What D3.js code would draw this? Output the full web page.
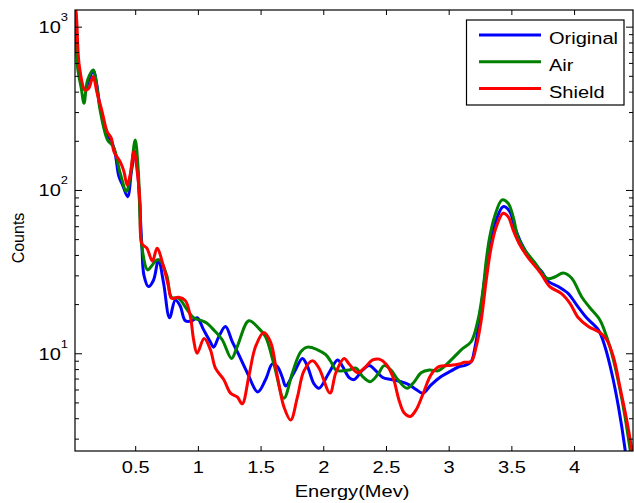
<!DOCTYPE html>
<html>
<head>
<meta charset="utf-8">
<script src="https://cdn.jsdelivr.net/npm/d3@7"></script>
<style>
body { margin: 0; background: #fff; }
text { font-family: "Liberation Sans", Arial, sans-serif; fill: #000; }
</style>
</head>
<body>
<div id="main_div"></div>
<script>
// spectra: energy (MeV) and counts
var origE = [0.02,0.04,0.07,0.10,0.13,0.166,0.19,0.22,0.28,0.31,0.34,0.37,0.40,0.44,0.47,0.50,0.52,0.553,0.57,0.606,0.646,0.686,0.726,0.774,0.82,0.86,0.90,0.954,0.994,1.046,1.10,1.126,1.166,1.22,1.274,1.326,1.394,1.478,1.54,1.594,1.634,1.674,1.70,1.766,1.834,1.874,1.926,1.966,2.046,2.114,2.154,2.206,2.246,2.314,2.366,2.42,2.474,2.54,2.62,2.686,2.74,2.794,2.86,2.94,3.02,3.086,3.126,3.18,3.206,3.246,3.286,3.326,3.38,3.434,3.486,3.526,3.58,3.66,3.74,3.794,3.874,3.954,4.02,4.10,4.194,4.246,4.30,4.354,4.406,4.43];
var origC = [1350,650,460,409,470,540,460,324,215,200,168,121,107,91,130,172,130,46,30,25.6,28,37.3,27,16.5,21.2,19.4,15.8,15.8,16.5,13.9,11.7,10.9,12.6,14.6,11.8,9.8,7.6,5.8,6.9,8.6,8.3,7.1,6.3,7.6,9.3,8.3,6.5,6.1,7.6,9.1,8.3,7.1,6.9,7.9,8.4,7.8,7.1,6.9,6.7,6.4,6.0,5.7,6.4,7.2,7.8,8.3,8.4,8.9,10.5,16,28.2,45,65.6,79,74,59.5,47,37,31.8,27.6,25.6,23.2,19.8,16.5,13.9,11,7.6,4.7,2.6,1.8];

var airE = [0.02,0.03,0.04,0.07,0.092,0.12,0.166,0.19,0.22,0.28,0.326,0.38,0.43,0.46,0.50,0.525,0.553,0.60,0.64,0.674,0.70,0.754,0.79,0.846,0.914,0.966,1.034,1.07,1.126,1.194,1.268,1.314,1.406,1.486,1.54,1.606,1.686,1.754,1.82,1.874,1.954,2.02,2.06,2.10,2.154,2.206,2.26,2.314,2.374,2.434,2.486,2.54,2.594,2.668,2.726,2.78,2.846,2.914,2.94,3.02,3.10,3.18,3.234,3.274,3.30,3.326,3.366,3.426,3.474,3.514,3.554,3.606,3.686,3.766,3.794,3.846,3.914,3.98,4.06,4.126,4.206,4.26,4.314,4.366,4.406,4.446,4.47];
var airC = [1500,1100,570,420,340,470,543,450,309,202,184,127,98,120,202,130,45,32.4,35,37.3,37,29.5,22,21.7,18.5,16.5,15.8,15.3,13.9,12.1,9.3,11,15.8,14.2,12.6,8.6,5.3,7.6,10.2,10.9,10.5,9.8,8.9,7.9,7.8,7.9,8.1,7.2,6.7,7.4,8.4,7.9,6.9,6.1,6.7,7.6,7.9,7.8,8.0,9.1,10.5,11.8,16,24.5,37.3,51,68.6,86.9,83,68.6,51,43,36,29.5,28.6,29.3,31,28.9,22.2,19,16,12.6,9.1,6.0,4.1,2.6,2.0];

var shieldE = [0.02,0.03,0.054,0.10,0.13,0.164,0.196,0.236,0.276,0.31,0.33,0.38,0.41,0.436,0.46,0.49,0.516,0.54,0.553,0.593,0.638,0.674,0.726,0.766,0.79,0.846,0.90,0.94,0.966,0.994,1.05,1.10,1.14,1.206,1.26,1.314,1.354,1.406,1.46,1.526,1.58,1.634,1.686,1.74,1.794,1.846,1.914,1.966,2.054,2.10,2.166,2.206,2.274,2.326,2.394,2.446,2.50,2.554,2.606,2.646,2.694,2.74,2.794,2.86,2.926,2.994,3.086,3.126,3.18,3.22,3.26,3.30,3.34,3.38,3.434,3.474,3.514,3.566,3.634,3.714,3.74,3.806,3.90,3.966,4.034,4.114,4.206,4.26,4.314,4.366,4.42,4.46,4.48];
var shieldC = [1300,1190,580,409,420,495,393,302,228,207,172,149,130,107,124,172,130,81,47,44,36.6,44,34,25.6,21.7,22,21,16.8,12.1,10,12.3,10.5,8.1,6.9,5.7,5.4,4.9,7.2,11,13.4,11.7,7.2,4.7,3.9,5.4,7.8,9.0,8.1,5.7,7.6,9.3,8.6,7.6,8.1,9.1,9.2,8.6,7.2,5.1,4.3,4.1,4.5,5.6,7.4,8.3,8.4,8.6,8.8,8.9,11,16,28.2,45,59.5,72,68.6,57,46.4,38.5,32.4,30.4,25.6,23.2,20.3,16.5,14.6,13.4,12.1,9.5,6.2,3.9,2.6,2.1];

var seriesNames = ["Original", "Air", "Shield"];
var seriesColors = ["#0000ff", "#008000", "#ff0000"];
var xTicks = [0.5, 1, 1.5, 2, 2.5, 3, 3.5, 4];
var yMajor = [10, 100, 1000];
var yExp = ["1", "2", "3"];

var series = [
    {name: seriesNames[0], color: seriesColors[0], pts: d3.zip(origE, origC)},
    {name: seriesNames[1], color: seriesColors[1], pts: d3.zip(airE, airC)},
    {name: seriesNames[2], color: seriesColors[2], pts: d3.zip(shieldE, shieldC)}
];

var pL = 75, pR = 633, pT = 10, pB = 451;
var sx = 1.18; // picture is a little wider than tall

var x_scale = d3.scaleLinear().domain([0.02, 4.47]).range([pL, pR]);
var y_scale = d3.scaleLog().domain([2.52, 1265]).range([pB, pT]);

var yMinor = [];
[1, 10, 100].forEach(function(b) {
    for (var k = 2; k <= 9; k++) {
        var v = b * k;
        if (v >= 2.52 && v <= 1265) yMinor.push(v);
    }
});

var svg = d3.select("#main_div").append("svg").attr("width", 634).attr("height", 503);

svg.append("defs").append("clipPath").attr("id", "clip")
    .append("rect").attr("x", pL).attr("y", pT).attr("width", pR - pL).attr("height", pB - pT);

var line = d3.line()
    .x(function(d) { return x_scale(d[0]); })
    .y(function(d) { return y_scale(d[1]); })
    .curve(d3.curveCatmullRom.alpha(0.5));

svg.append("g").attr("clip-path", "url(#clip)").selectAll("path").data(series).enter().append("path")
    .attr("d", function(d) { return line(d.pts); })
    .attr("fill", "none")
    .attr("stroke", function(d) { return d.color; })
    .attr("stroke-width", 3)
    .attr("stroke-linejoin", "round");

// axes, ticks pointing inward
var g_x = svg.append("g").attr("transform", "translate(0," + pB + ")")
    .call(d3.axisBottom(x_scale).tickValues(xTicks).tickSize(-5).tickSizeOuter(0).tickPadding(10)
        .tickFormat(function(d) { return String(d); }));
g_x.selectAll("text").attr("font-size", 17).attr("transform", "scale(" + sx + ",1)");
svg.append("g").attr("transform", "translate(0," + pT + ")")
    .call(d3.axisTop(x_scale).tickValues(xTicks).tickSize(-5).tickSizeOuter(0).tickFormat(""));

[[d3.axisLeft, pL], [d3.axisRight, pR]].forEach(function(a) {
    svg.append("g").attr("transform", "translate(" + a[1] + ",0)")
        .call(a[0](y_scale).tickValues(yMajor).tickSize(-7).tickSizeOuter(0).tickFormat(""));
    svg.append("g").attr("transform", "translate(" + a[1] + ",0)")
        .call(a[0](y_scale).tickValues(yMinor).tickSize(-4).tickSizeOuter(0).tickFormat(""));
});
svg.selectAll(".domain").remove();
svg.selectAll(".tick line").attr("stroke", "#000");

svg.append("rect").attr("x", pL).attr("y", pT).attr("width", pR - pL).attr("height", pB - pT)
    .attr("fill", "none").attr("stroke", "#000").attr("stroke-width", 1.2);

// 10^n labels
var yl = svg.append("g").selectAll("g").data(yMajor).enter().append("g")
    .attr("transform", function(d) { return "translate(68," + (y_scale(d) + 6.5) + ") scale(" + sx + ",1)"; })
    .append("text").attr("text-anchor", "end").attr("font-size", 17);
yl.append("tspan").text("10");
yl.append("tspan").attr("font-size", 11).attr("dy", -12).text(function(d, i) { return yExp[i]; });

svg.append("text").attr("transform", "translate(352,497) scale(" + sx + ",1)")
    .attr("text-anchor", "middle").attr("font-size", 17).text("Energy(Mev)");
svg.append("text").attr("transform", "translate(24,238) rotate(-90)")
    .attr("text-anchor", "middle").attr("font-size", 16).text("Counts");

// legend
var lg = svg.append("g");
lg.append("rect").attr("x", 466.5).attr("y", 20).attr("width", 157.5).attr("height", 85)
    .attr("fill", "#fff").attr("stroke", "#000").attr("stroke-width", 1.2);
var rows = lg.selectAll("g.row").data(series).enter().append("g").attr("class", "row")
    .attr("transform", function(d, i) { return "translate(0," + (35 + i * 26.7) + ")"; });
rows.append("line").attr("x1", 479).attr("x2", 541).attr("y1", 0).attr("y2", 0)
    .attr("stroke", function(d) { return d.color; }).attr("stroke-width", 3);
rows.append("text").attr("transform", "translate(549,3) scale(" + sx + ",1)")
    .attr("dy", "0.36em").attr("font-size", 17).text(function(d) { return d.name; });
</script>
</body>
</html>
